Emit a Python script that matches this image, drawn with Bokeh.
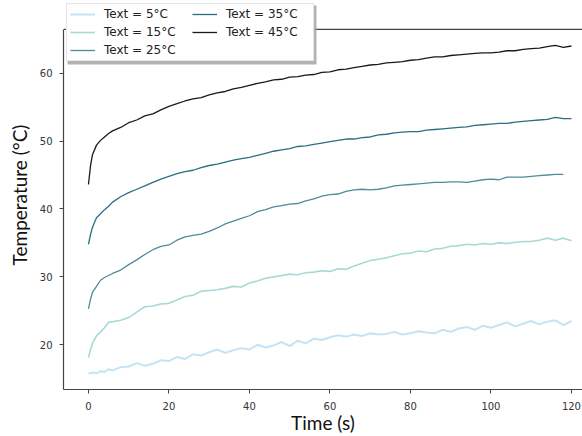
from bokeh.plotting import figure
from bokeh.models import Range1d, Legend, LegendItem, FixedTicker, Span, BoxAnnotation
from bokeh.embed import file_html
from bokeh.resources import INLINE

time_s = [0, 0.5, 1, 2, 3, 4, 5, 6,
          8, 10, 12, 14, 16, 18, 20, 22, 24, 26,
          28, 30, 32, 34, 36, 38, 40, 42, 44, 46,
          48, 50, 52, 54, 56, 58, 60, 62, 64, 66,
          68, 70, 72, 74, 76, 78, 80, 82, 84, 86,
          88, 90, 92, 94, 96, 98, 100, 102, 104, 106,
          108, 110, 112, 114, 116, 118, 120]

temp_5 = [15.8, 15.8, 15.9, 15.8, 16.1, 16.0, 16.4, 16.2,
          16.7, 16.8, 17.3, 16.9, 17.2, 17.7, 17.6, 18.2, 17.9, 18.6,
          18.4, 18.9, 19.3, 18.8, 19.2, 19.5, 19.3, 20.0, 19.6, 19.9,
          20.4, 19.8, 20.6, 20.2, 20.9, 20.7, 21.1, 21.4, 21.2, 21.5,
          21.3, 21.7, 21.5, 21.6, 21.9, 21.5, 21.7, 22.0, 21.8, 21.7,
          22.2, 21.9, 22.4, 22.6, 22.2, 22.8, 22.5, 22.9, 23.3, 22.7,
          23.1, 23.5, 23.0, 23.4, 23.6, 22.9, 23.5]

temp_15 = [18.1, 19.3, 20.2, 21.3, 21.9, 22.5, 23.3, 23.4,
           23.6, 24.0, 24.8, 25.6, 25.7, 26.0, 26.1, 26.6, 27.1, 27.3,
           27.9, 28.0, 28.1, 28.3, 28.6, 28.5, 29.1, 29.4, 29.8, 30.0,
           30.2, 30.4, 30.3, 30.6, 30.7, 30.9, 30.8, 31.2, 31.1, 31.6,
           32.0, 32.4, 32.6, 32.8, 33.1, 33.4, 33.5, 33.8, 33.7, 34.1,
           34.2, 34.5, 34.6, 34.8, 34.7, 34.9, 34.8, 35.0, 34.9, 35.1,
           35.2, 35.2, 35.4, 35.7, 35.4, 35.7, 35.3]

temp_25 = [25.3, 26.7, 27.7, 28.6, 29.5, 29.9, 30.2, 30.5,
           31.0, 31.8, 32.5, 33.3, 34.0, 34.5, 34.7, 35.4, 35.9, 36.1,
           36.3, 36.7, 37.2, 37.8, 38.2, 38.6, 39.0, 39.6, 39.9, 40.3,
           40.5, 40.7, 40.8, 41.2, 41.5, 41.9, 42.1, 42.2, 42.6, 42.8,
           42.9, 42.8, 42.9, 43.1, 43.4, 43.5, 43.6, 43.7, 43.8, 43.9,
           43.9, 44.0, 44.0, 43.9, 44.1, 44.3, 44.4, 44.3, 44.7, 44.7,
           44.7, 44.8, 44.9, 45.0, 45.1, 45.1]

temp_35 = [34.8, 36.2, 37.3, 38.7, 39.3, 39.9, 40.4, 41.0,
           41.8, 42.4, 42.9, 43.4, 43.9, 44.4, 44.8, 45.2, 45.5, 45.7,
           46.1, 46.4, 46.6, 46.9, 47.2, 47.4, 47.6, 47.9, 48.2, 48.5,
           48.7, 48.9, 49.2, 49.3, 49.5, 49.7, 49.9, 50.1, 50.3, 50.3,
           50.5, 50.6, 50.9, 51.0, 51.2, 51.3, 51.4, 51.4, 51.6, 51.7,
           51.8, 51.9, 52.0, 52.1, 52.3, 52.4, 52.5, 52.6, 52.6, 52.8,
           52.9, 53.0, 53.1, 53.2, 53.5, 53.3, 53.3]

temp_45 = [43.6, 46.3, 48.0, 49.4, 50.1, 50.6, 51.1, 51.5,
           52.0, 52.7, 53.1, 53.7, 54.0, 54.6, 55.1, 55.5, 55.9, 56.2,
           56.4, 56.8, 57.1, 57.3, 57.7, 57.9, 58.2, 58.5, 58.7, 59.0,
           59.1, 59.4, 59.5, 59.7, 59.8, 60.1, 60.2, 60.5, 60.6, 60.8,
           61.0, 61.2, 61.3, 61.5, 61.6, 61.7, 61.9, 62.0, 62.2, 62.4,
           62.4, 62.6, 62.7, 62.8, 62.9, 63.0, 63.0, 63.1, 63.3, 63.3,
           63.5, 63.6, 63.7, 63.9, 64.1, 63.8, 64.0]

labels = ["Text = 5°C", "Text = 15°C", "Text = 25°C", "Text = 35°C", "Text = 45°C"]
series = [temp_5, temp_15, temp_25, temp_35, temp_45]
colors = ["#c4e3f5", "#a9d9d6", "#4f8b99", "#296f82", "#1a1a1a"]
widths = [2.0, 1.6, 1.3, 1.3, 1.3]

x_ticks = [0, 20, 40, 60, 80, 100, 120]
y_ticks = [20, 30, 40, 50, 60]

X_LO, X_HI = -6.2, 122.75
Y_LO, Y_HI, Y_TOP_SPINE = 13.41, 70.70, 66.45

p = figure(width=582, height=436, output_backend="svg", toolbar_location=None,
           x_range=Range1d(X_LO, X_HI), y_range=Range1d(Y_LO, Y_HI),
           min_border_left=63, min_border_right=0, min_border_top=0,
           min_border_bottom=45)
p.background_fill_color = "white"
p.border_fill_color = "white"
p.xgrid.visible = False
p.ygrid.visible = False
p.outline_line_color = None

items = []
for lab, ys, c, w in zip(labels, series, colors, widths):
    r = p.line(time_s[:len(ys)], ys, line_color=c, line_width=w)
    items.append(LegendItem(label=lab, renderers=[r]))

p.add_layout(Span(location=Y_TOP_SPINE, dimension="width",
                  line_color="#444444", line_width=1.2))

for ax in (p.xaxis[0], p.yaxis[0]):
    ax.axis_line_color = "#444444"
    ax.axis_line_width = 1.2
    ax.major_tick_line_color = "#444444"
    ax.major_tick_out = 4
    ax.major_tick_in = 0
    ax.minor_tick_line_color = None
    ax.major_label_text_font = "DejaVu Sans"
    ax.major_label_text_font_size = "10px"
    ax.major_label_text_color = "#333333"
    ax.axis_label_text_font = "Lato"
    ax.axis_label_text_font_size = "19px"
    ax.axis_label_text_font_style = "normal"
    ax.axis_label_text_color = "#111111"

p.yaxis.bounds = (Y_LO, Y_TOP_SPINE)
p.xaxis.ticker = FixedTicker(ticks=x_ticks)
p.yaxis.ticker = FixedTicker(ticks=y_ticks)
p.xaxis.axis_label = "Time (s)"
p.yaxis.axis_label = "Temperature (°C)"
p.xaxis.major_label_standoff = 8
p.yaxis.major_label_standoff = 7
p.xaxis.axis_label_standoff = -2
p.yaxis.axis_label_standoff = 6

# soft drop shadow behind the legend box (screen pixels inside the frame)
p.add_layout(BoxAnnotation(left=4, right=253, bottom=325, top=384,
                           left_units="screen", right_units="screen",
                           bottom_units="screen", top_units="screen",
                           fill_color="#a6a6a6", fill_alpha=0.85,
                           line_color=None))

legend = Legend(items=items, location=(3, 328), orientation="vertical", nrows=3,
                label_text_font="DejaVu Sans", label_text_font_size="12px",
                label_text_color="#222222",
                glyph_width=25, glyph_height=14, label_standoff=9, label_width=84,
                spacing=4, padding=3, margin=0,
                border_line_color="#cccccc", border_line_width=1,
                background_fill_color="white", background_fill_alpha=1.0)
p.add_layout(legend)

open("out.html", "w").write(file_html(p, INLINE))
